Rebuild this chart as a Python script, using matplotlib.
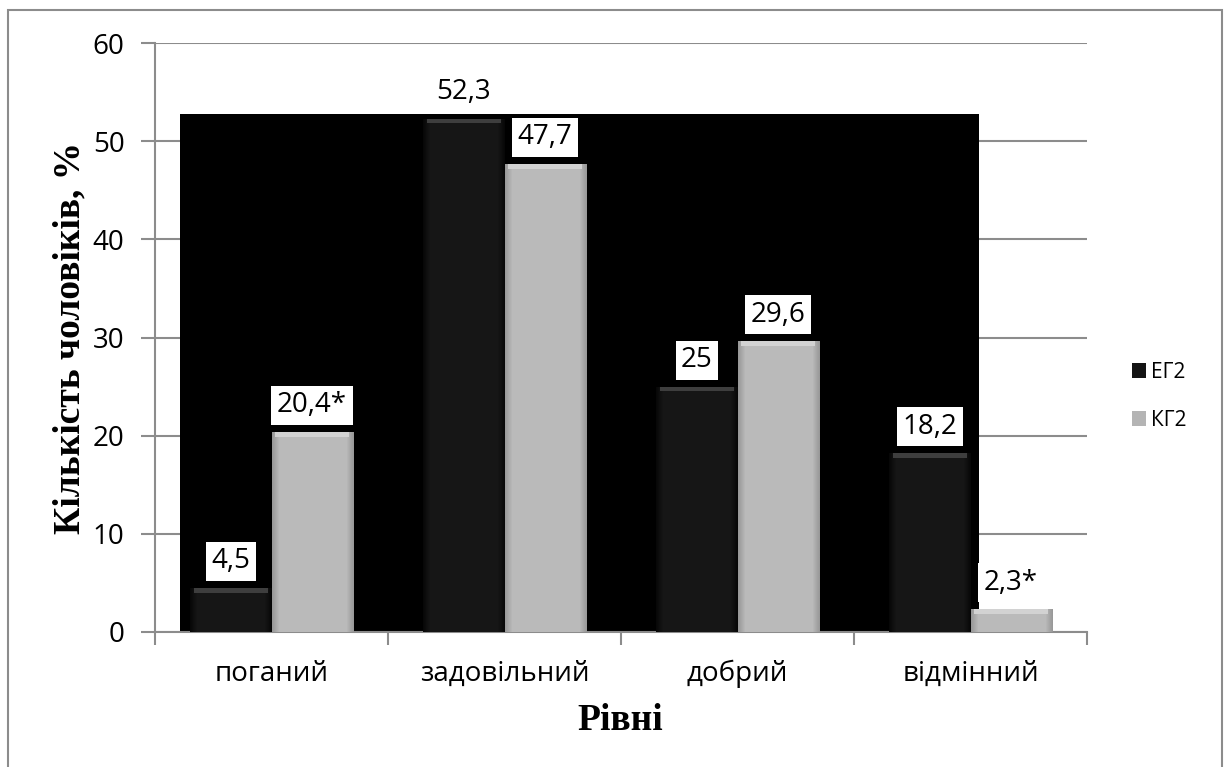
import numpy as np
import matplotlib
matplotlib.use('Agg')
import matplotlib.pyplot as plt
from matplotlib.patches import Rectangle

categories = ['поганий', 'задовільний', 'добрий', 'відмінний']
series = ['ЕГ2', 'КГ2']
eg2 = [4.5, 52.3, 25, 18.2]
kg2 = [20.4, 47.7, 29.6, 2.3]
eg2_labels = ['4,5', '52,3', '25', '18,2']
kg2_labels = ['20,4*', '47,7', '29,6', '2,3*']

plt.rcParams['font.family'] = ['Open Sans', 'DejaVu Sans']

fig = plt.figure(figsize=(12.24, 7.67), dpi=100)
ax = fig.add_axes([155/1224, 1-632/767, (1087-155)/1224, (632-43)/767])

x = np.arange(len(categories))
w = 0.348

# black block behind the bars (artifact of the original picture)
ax.add_patch(Rectangle((-0.393, 0), 3.429, 52.75, facecolor='black',
                       edgecolor='none', zorder=1))

def shade(bars, c_edge, c_mid, c_top):
    for b in bars:
        x0, y0 = b.get_x(), b.get_y()
        bw, bh = b.get_width(), b.get_height()
        t = np.linspace(0, 1, 60)
        prof = np.minimum(t, 1 - t) * 2
        prof = np.clip(prof * 6, 0, 1)
        col = np.array(c_edge) + (np.array(c_mid) - np.array(c_edge)) * prof[:, None]
        img = np.tile(col[None, :, :], (2, 1, 1))
        im = ax.imshow(img, extent=(x0, x0 + bw, y0, y0 + bh), aspect='auto',
                       zorder=3, interpolation='bilinear')
        im.set_clip_path(b)
        cap = min(0.5, bh * 0.3)
        ax.add_patch(Rectangle((x0 + bw * 0.04, y0 + bh - cap), bw * 0.92, cap,
                               facecolor=c_top, edgecolor='none', zorder=4))

b1 = ax.bar(x - w/2, eg2, w, color='#141414', zorder=2, label=series[0])
b2 = ax.bar(x + w/2, kg2, w, color='#b4b4b4', zorder=2, label=series[1])
shade(b1, (0.03, 0.03, 0.03), (0.09, 0.09, 0.09), '#3e3e3e')
shade(b2, (0.60, 0.60, 0.60), (0.73, 0.73, 0.73), '#d2d2d2')

for bars, labs in ((b1, eg2_labels), (b2, kg2_labels)):
    for b, lab in zip(bars, labs):
        ax.annotate(lab, (b.get_x() + b.get_width()/2, b.get_height()),
                    xytext=(0, 9), textcoords='offset points',
                    ha='center', va='bottom', fontsize=20, zorder=6,
                    bbox=dict(boxstyle='square,pad=0.2', fc='white', ec='none'))

ax.set_xlim(-0.5, 3.5)
ax.set_ylim(0, 60)
ax.set_yticks(np.arange(0, 61, 10))
ax.yaxis.grid(True, color='#8c8c8c', linewidth=1.5, zorder=0)
ax.set_axisbelow(True)
ax.set_xticks(x)
ax.set_xticklabels(categories, fontsize=20)
ax.set_xticks(np.arange(-0.5, 3.6, 1), minor=True)
ax.tick_params(axis='x', which='major', length=0, pad=20)
ax.tick_params(axis='x', which='minor', length=9, width=1.5, color='#8c8c8c')
ax.tick_params(axis='y', length=10, width=1.5, color='#8c8c8c', labelsize=20, pad=12)
for s in ('top', 'right'):
    ax.spines[s].set_visible(False)
for s in ('left', 'bottom'):
    ax.spines[s].set_color('#8c8c8c')
    ax.spines[s].set_linewidth(1.5)

fig.text(70/1224, 1-338/767, 'Кількість чоловіків, %', rotation=90,
         ha='center', va='center', fontsize=27, fontweight='bold',
         family=['Liberation Serif', 'DejaVu Serif'])
fig.text(620/1224, 1-720/767, 'Рівні', ha='center', va='center',
         fontsize=27, fontweight='bold', family=['Liberation Serif', 'DejaVu Serif'])

leg = ax.legend(loc='center left', bbox_to_anchor=(1.028, 0.40), frameon=False,
                fontsize=15, handlelength=0.7, handleheight=0.7,
                handletextpad=0.2, labelspacing=1.3)

fig.patches.append(Rectangle((8/1224, -0.01), 1214/1224, 1 - 10/767 + 0.01,
                             transform=fig.transFigure, fill=False,
                             edgecolor='#8c8c8c', linewidth=1.5))

fig.savefig('out.png', dpi=100)
